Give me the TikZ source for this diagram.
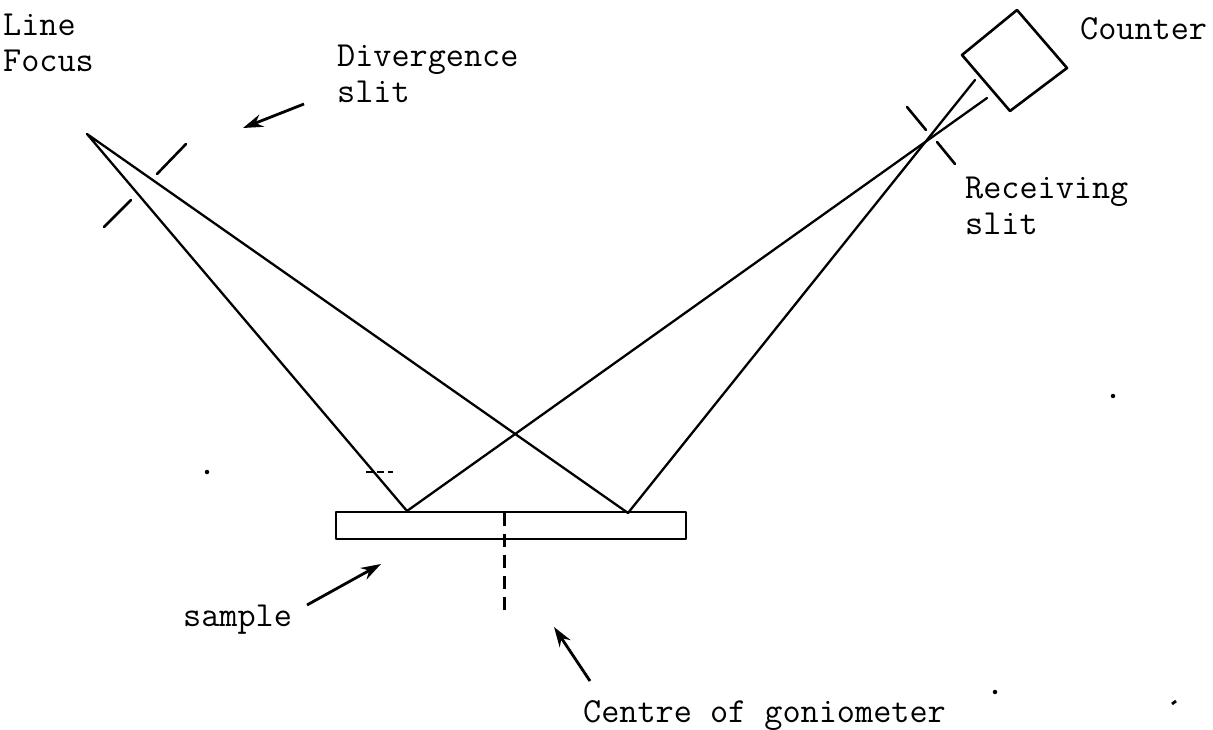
\documentclass[tikz,border=0pt]{standalone}
\usetikzlibrary{arrows.meta}
\tikzset{
  ray/.style={line width=2.3pt,line join=round,line cap=round},
  box/.style={line width=2.6pt,line join=round},
  slitbar/.style={line width=2.6pt,line cap=round},
  pointer/.style={line width=2.8pt,-{Stealth[length=20pt,width=13pt]}},
  lbl/.style={anchor=west,inner sep=0pt,align=left,font=\fontsize{35.2pt}{36pt}\selectfont\ttfamily},
  speck/.style={fill=black,circle,inner sep=0pt,minimum size=4.5pt}
}
\begin{document}
\begin{tikzpicture}[x=1pt,y=-1pt]
\useasboundingbox (0,0) rectangle (1213,730);
% rays
\coordinate (focus) at (87,134);
\coordinate (hitL) at (407,511);
\coordinate (hitR) at (628,513);
\coordinate (endA) at (987,98);
\coordinate (endB) at (975,80);
\draw[ray] (hitL) -- (focus) -- (hitR);
\draw[ray] (hitL) -- (endA);
\draw[ray] (hitR) -- (endB);
% sample
\coordinate (sTL) at (336,512);
\coordinate (sBR) at (686,539);
\draw[box] (sTL) rectangle (sBR);
\coordinate (cTop) at (504,513);
\coordinate (cBot) at (504,613);
\draw[line width=3pt,dash pattern=on 13pt off 8pt] (cTop) -- (cBot);
% counter
\coordinate (c1) at (1017,10);
\coordinate (c2) at (1067,68);
\coordinate (c3) at (1010,111);
\coordinate (c4) at (962,55);
\draw[box] (c1) -- (c2) -- (c3) -- (c4) -- cycle;
% slits
\coordinate (d1) at (186,144); \coordinate (d2) at (157,174);
\coordinate (d3) at (131,200); \coordinate (d4) at (104,227);
\draw[slitbar] (d1) -- (d2);
\draw[slitbar] (d3) -- (d4);
\coordinate (r1) at (907,107); \coordinate (r2) at (926,130);
\coordinate (r3) at (937,142); \coordinate (r4) at (955,164);
\draw[slitbar] (r1) -- (r2);
\draw[slitbar] (r3) -- (r4);
% labels
\node[lbl] (lf) at (3,43) {Line\\Focus};
\node[lbl] (ds) at (337,74) {Divergence\\slit};
\node[lbl] (co) at (1080,29) {Counter};
\node[lbl] (rs) at (965,206) {Receiving\\slit};
\node[lbl] (sa) at (183,620) {sample};
\node[lbl] (ce) at (583,716) {Centre of goniometer};
% pointers
\coordinate (a1s) at (304,104); \coordinate (a1e) at (243,128);
\draw[pointer] (a1s) -- (a1e);
\coordinate (a2s) at (307,605); \coordinate (a2e) at (381,564);
\draw[pointer] (a2s) -- (a2e);
\coordinate (a3s) at (590,681); \coordinate (a3e) at (554,627);
\draw[pointer] (a3s) -- (a3e);
% specks
\coordinate (m1) at (366,472); \coordinate (m2) at (393,472);
\draw[line width=1.5pt,dash pattern=on 7pt off 4pt] (m1) -- (m2);
\node[speck] (p1) at (207,472) {};
\node[speck] (p2) at (1113,396) {};
\node[speck] (p3) at (995,692) {};
\coordinate (p4a) at (1172,704); \coordinate (p4b) at (1176,701);
\draw[line width=2.8pt] (p4a) -- (p4b);
\end{tikzpicture}
\end{document}
